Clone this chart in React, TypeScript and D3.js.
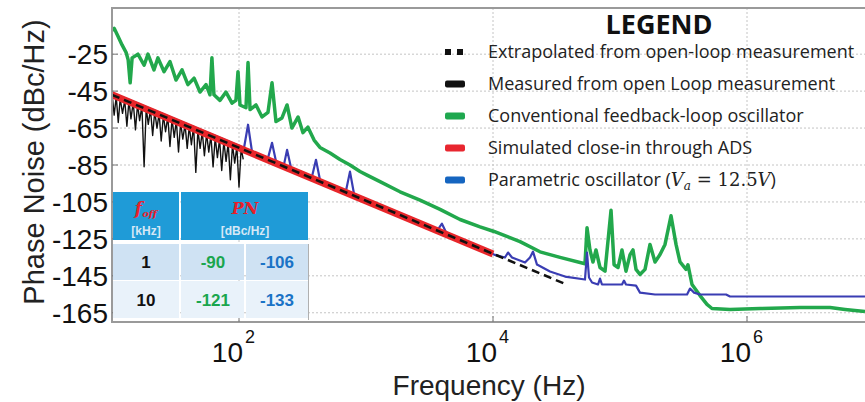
import React from "react";
import * as d3 from "d3";

// ---------- data ----------
const greenFreq = [10, 10.4, 11.1, 12.0, 12.9, 13.4, 13.9, 14.4, 16.0, 17.9, 19.2, 21.4, 23.0, 25.7, 28.6, 31.9, 35.6, 39.6, 44.3, 49.3, 55.0, 59.1, 61.2, 63.5, 70.8, 79.0, 88.1, 94.6, 98.2, 101.8, 113.5, 117.8, 122.2, 136.2, 151.8, 169.2, 182, 195.5, 218, 239, 261, 292, 319, 349, 390, 434, 521, 624, 748, 897, 1019, 1289, 1853, 2663, 3828, 5500, 7906, 10190, 16320, 23440, 33700, 53000, 55000, 58000, 61250, 64700, 69600, 76200, 85000, 89800, 96500, 103700, 111500, 120000, 126600, 133700, 143700, 157400, 172300, 188700, 206600, 226200, 252200, 276200, 296800, 331000, 343000, 369000, 426600, 484200, 530000, 734600, 1265000, 2612000, 4508000, 5916000, 8492000];
const greenDb = [-12, -11, -15, -20, -24, -28, -40.5, -27, -25, -31, -25, -33.5, -27, -34.5, -29, -39, -33.5, -41.5, -38, -45.5, -41.5, -47, -27, -47, -50, -45.5, -51.5, -50, -34.5, -52.5, -54, -29.5, -55, -52.5, -59, -56.5, -40.5, -61.5, -59.5, -52.5, -65, -59, -67.5, -64.5, -71.5, -75.5, -78.5, -82, -85, -88.5, -90.5, -94, -99.5, -104, -109, -114.5, -118.5, -121, -126.5, -132, -135, -138.5, -119, -131, -137.5, -131, -140.5, -142.5, -109.5, -139, -140.5, -131, -142.5, -133.5, -131, -141.5, -144.3, -141.5, -128, -137.5, -133.5, -128, -112.5, -128, -137.5, -141.5, -139, -149.7, -155.7, -160.5, -162.7, -163.2, -162.7, -162.2, -162.2, -163.2, -164.3];

const blueFreq = [10, 11.56, 13.9, 16.6, 23.9, 34.3, 49.3, 70.8, 109.5, 117.8, 126.5, 169.2, 182, 195.5, 226, 239, 256.6, 375.8, 403.8, 434, 696, 748, 805, 3690, 3963, 4266, 10190, 12420, 13130, 14120, 17870, 19550, 20660, 22200, 28100, 36900, 53000, 55000, 57000, 60250, 67150, 69600, 72100, 103700, 107500, 111500, 133700, 143700, 188700, 247700, 337300, 355900, 382800, 426600, 684000, 734600, 8492000];
const blueDb = [-46, -47.8, -50, -52.3, -56.7, -61.3, -65.8, -70.3, -75.8, -63.2, -77.6, -81.2, -73, -83, -84.8, -76.8, -86.4, -91.2, -82.2, -93, -98.9, -88.6, -100.7, -119.8, -116.8, -121.4, -133.5, -135.1, -132.4, -135.1, -137.8, -135.1, -131.9, -138.9, -142.7, -145.4, -147, -132.4, -145.9, -148.6, -149.7, -146.5, -149.7, -149.7, -147.6, -149.7, -150.3, -154.1, -155.1, -155.1, -155.1, -151.9, -154.1, -155.1, -155.1, -156.2, -156.2];

const blackFreq = [10, 10.4, 10.8, 11.2, 11.6, 12.1, 12.6, 13.1, 13.6, 14.1, 14.7, 15.3, 15.9, 16.5, 17.2, 17.9, 18.6, 19.3, 20.1, 20.9, 21.7, 22.6, 23.5, 24.4, 25.4, 26.4, 27.5, 28.6, 29.7, 30.9, 32.1, 33.4, 34.7, 36.1, 37.6, 39.1, 40.6, 42.2, 43.9, 45.7, 47.5, 49.4, 51.4, 53.4, 55.6, 57.8, 60.1, 62.5, 65.0, 67.6, 70.3, 73.1, 76.0, 79.1, 82.2, 85.5, 88.9, 92.5, 96.2, 100, 104, 108];
const blackDb = [-46, -58, -48, -62, -49, -57, -50, -64, -50, -60, -51, -66, -52, -61, -53, -86, -54, -63, -55, -69, -56, -65, -57, -72, -58, -67, -59, -75, -60, -70, -61, -78, -62, -71, -63, -76, -64, -74, -64, -89, -66, -76, -67, -80, -68, -78, -69, -86, -70, -81, -71, -88, -72, -83, -73, -93, -74, -84, -75, -97, -76, -82];

const redFreq = [10, 10000];
const redDb = [-47, -133.2];
const extrapFreq = [10, 38000];
const extrapDb = [-47, -149.7];

const yTicks = [-25, -45, -65, -85, -105, -125, -145, -165];
const xTicks = [100, 10000, 1000000];
const xTickExp = ["2", "4", "6"];

const legendLabels = [
  "Extrapolated from open-loop measurement",
  "Measured from open Loop measurement",
  "Conventional feedback-loop oscillator",
  "Simulated close-in through ADS",
  "Parametric oscillator",
];
const legendColors = ["#111111", "#111111", "#1fa84f", "#e8262f", "#1565c0"];

const tableOffset = ["1", "10"];
const tableConv = ["-90", "-121"];
const tablePar = ["-106", "-133"];

// ---------- layout ----------
const W = 865;
const H = 402;
const L = 112, T = 8, B = 322;

const x = d3.scaleLog().domain([10, 1e7]).range([L, 874]);
const y = d3.scaleLinear().domain([-170, 0]).range([B, T]);

const mk = (fs: number[], ds: number[]) =>
  d3.line<number>().x((_, i) => x(fs[i])).y((d) => y(d))(ds) || "";

export default function App() {
  const sans = "'Liberation Sans', Arial, sans-serif";
  const leg = "'Open Sans', 'Noto Sans', sans-serif";
  const rowY = [52, 84, 116, 148, 180];
  return (
    <svg width={W} height={H} style={{ position: "absolute", left: 0, top: 0, background: "#fff" }} fontFamily={sans}>
      <defs>
        <clipPath id="plot">
          <rect x={L} y={T} width={W - L} height={B - T} />
        </clipPath>
      </defs>
      {/* grid */}
      {yTicks.map((t) => (
        <line key={"gy" + t} x1={L} x2={W} y1={y(t)} y2={y(t)} stroke="#c4c4c4" strokeWidth={1} strokeDasharray="2,2" />
      ))}
      {xTicks.map((t) => (
        <line key={"gx" + t} x1={x(t)} x2={x(t)} y1={T} y2={B} stroke="#c4c4c4" strokeWidth={1} strokeDasharray="2,2" />
      ))}
      {/* curves */}
      <g clipPath="url(#plot)" fill="none" strokeLinejoin="round">
        <path d={mk(greenFreq, greenDb)} stroke="#22a84c" strokeWidth={3.5} />
        <path d={mk(blackFreq, blackDb)} stroke="#111" strokeWidth={1.4} />
        <path d={mk(blueFreq, blueDb)} stroke="#3a3db3" strokeWidth={2.2} />
        <path d={mk(redFreq, redDb)} stroke="#e8262a" strokeWidth={7} />
        <path d={mk(extrapFreq, extrapDb)} stroke="#111" strokeWidth={2.5} strokeDasharray="8,5" />
      </g>
      {/* frame */}
      <path d={`M${W},${T}H${L}V${B}H${W}`} fill="none" stroke="#9a9a9a" strokeWidth={2} />
      {yTicks.map((t) => (
        <g key={"ty" + t}>
          <line x1={L} x2={L + 6} y1={y(t)} y2={y(t)} stroke="#777" />
          <text x={108} y={y(t) + 10} textAnchor="end" fontSize={28} fill="#111">{t}</text>
        </g>
      ))}
      {xTicks.map((t, i) => (
        <g key={"tx" + t}>
          <line x1={x(t)} x2={x(t)} y1={B} y2={B - 6} stroke="#777" />
          <text x={x(t) + 4} y={362} textAnchor="end" fontSize={28} fill="#111">10</text>
          <text x={x(t) + 6} y={343} fontSize={18} fill="#111">{xTickExp[i]}</text>
        </g>
      ))}
      <text x={489} y={395} textAnchor="middle" fontSize={28} fill="#222">Frequency (Hz)</text>
      <text transform="translate(44,162) rotate(-90)" textAnchor="middle" fontSize={29} fill="#222">Phase Noise (dBc/Hz)</text>

      {/* legend */}
      <text x={659} y={34} textAnchor="middle" fontFamily={leg} fontWeight="bold" fontSize={27} fill="#111">LEGEND</text>
      {legendLabels.map((lab, i) => (
        <g key={lab}>
          {i === 0 ? (
            <g fill={legendColors[i]}>
              <rect x={445} y={rowY[i] - 3} width={6} height={6} />
              <rect x={457} y={rowY[i] - 3} width={6} height={6} />
            </g>
          ) : (
            <rect x={445} y={rowY[i] - 3.5} width={20} height={7} rx={2} fill={legendColors[i]} />
          )}
          <text x={488} y={rowY[i] + 6} fontFamily={leg} fontSize={18} fill="#222">
            {lab}
            {i === 4 ? (
              <>
                <tspan> (</tspan>
                <tspan fontFamily="'DejaVu Serif', serif" fontStyle="italic">V</tspan>
                <tspan fontFamily="'DejaVu Serif', serif" fontStyle="italic" fontSize={12} dy={4}>a</tspan>
                <tspan fontFamily="'DejaVu Serif', serif" dy={-4}> = 12.5</tspan>
                <tspan fontFamily="'DejaVu Serif', serif" fontStyle="italic">V</tspan>
                <tspan>)</tspan>
              </>
            ) : null}
          </text>
        </g>
      ))}

      {/* table */}
      <g>
        <rect x={113} y={192} width={66} height={48} fill="#1f9bd7" />
        <rect x={181} y={192} width={127} height={48} fill="#1f9bd7" />
        <text x={146} y={214} textAnchor="middle" fill="#e8202a" fontFamily="'DejaVu Serif', serif" fontStyle="italic" fontWeight="bold" fontSize={17}>
          f<tspan fontSize={10} dy={3}>off</tspan>
        </text>
        <text x={146} y={235} textAnchor="middle" fill="#d6e8f6" fontSize={12} fontWeight="bold">[kHz]</text>
        <text x={245} y={214} textAnchor="middle" fill="#e8202a" fontFamily="'DejaVu Serif', serif" fontStyle="italic" fontWeight="bold" fontSize={16}>PN</text>
        <text x={245} y={235} textAnchor="middle" fill="#d6e8f6" fontSize={12} fontWeight="bold">[dBc/Hz]</text>
        {tableOffset.map((v, i) => {
          const top = i === 0 ? 244 : 281;
          const h = i === 0 ? 36 : 37;
          const bg = i === 0 ? "#cfe2f3" : "#e9f2fa";
          return (
            <g key={"r" + i}>
              <rect x={113} y={top} width={66} height={h} fill={bg} />
              <rect x={181} y={top} width={63} height={h} fill={bg} />
              <rect x={246} y={top} width={62} height={h} fill={bg} />
              <text x={146} y={top + h / 2 + 6} textAnchor="middle" fontSize={17} fontWeight="bold" fill="#111">{v}</text>
              <text x={213} y={top + h / 2 + 6} textAnchor="middle" fontSize={17} fontWeight="bold" fill="#1aa64e">{tableConv[i]}</text>
              <text x={277} y={top + h / 2 + 6} textAnchor="middle" fontSize={17} fontWeight="bold" fill="#1a73c6">{tablePar[i]}</text>
            </g>
          );
        })}
        <line x1={308.5} x2={308.5} y1={244} y2={320} stroke="#b0b0b0" />
      </g>
    </svg>
  );
}
